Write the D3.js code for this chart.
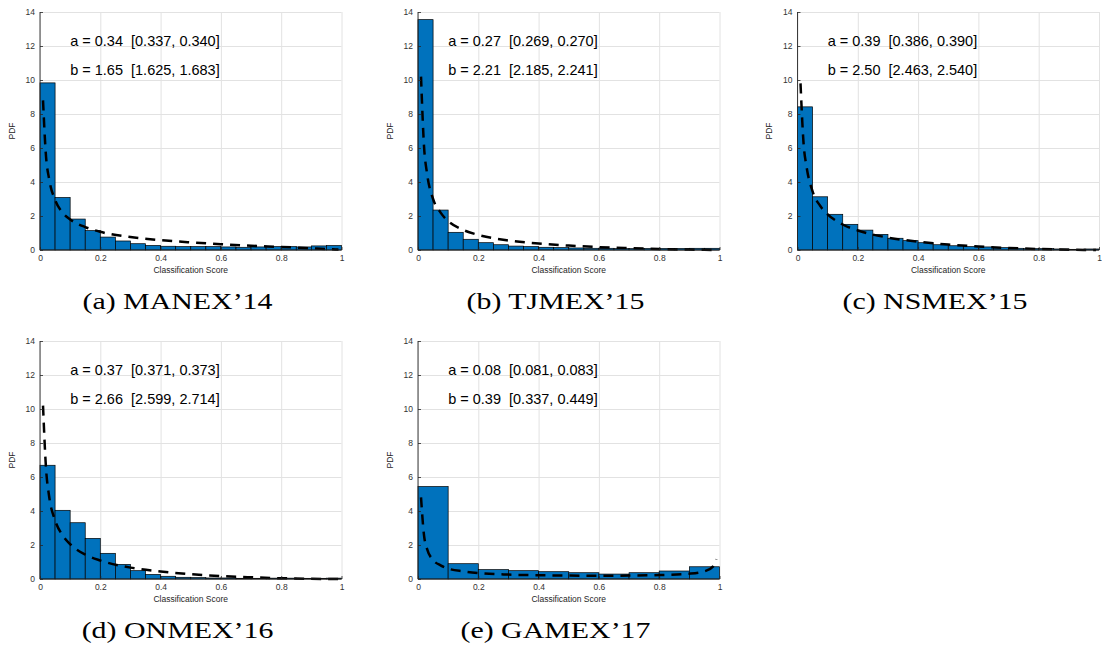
<!DOCTYPE html>
<html>
<head>
<meta charset="utf-8">
<script src="https://cdn.jsdelivr.net/npm/d3@7"></script>
<style>
  html, body { margin: 0; padding: 0; background: #fff; }
  svg { display: block; }
  .tick text { font-family: "Liberation Sans", Arial, sans-serif; font-size: 8.5px; fill: #333; }
  .grid line { stroke: #e2e2e2; stroke-width: 1; }
  .grid path { display: none; }
  .axis path { display: none; }
  .axis line { stroke: #262626; stroke-width: 0.8; }
</style>
</head>
<body>
<script>
// panel captions
var captions = ["(a) MANEX\u201914", "(b) TJMEX\u201915", "(c) NSMEX\u201915", "(d) ONMEX\u201916", "(e) GAMEX\u201917"];

// fitted parameter texts
var paramA = ["a = 0.34  [0.337, 0.340]", "a = 0.27  [0.269, 0.270]", "a = 0.39  [0.386, 0.390]", "a = 0.37  [0.371, 0.373]", "a = 0.08  [0.081, 0.083]"];
var paramB = ["b = 1.65  [1.625, 1.683]", "b = 2.21  [2.185, 2.241]", "b = 2.50  [2.463, 2.540]", "b = 2.66  [2.599, 2.714]", "b = 0.39  [0.337, 0.449]"];

// histogram bar heights (pdf), bins evenly spread over [0,1]
var histA = [9.83, 3.09, 1.82, 1.14, 0.76, 0.53, 0.37, 0.27, 0.22, 0.2, 0.2, 0.2, 0.18, 0.16, 0.18, 0.2, 0.2, 0.18, 0.24, 0.26];
var histB = [13.55, 2.35, 1.04, 0.63, 0.43, 0.31, 0.23, 0.2, 0.16, 0.14, 0.12, 0.1, 0.1, 0.08, 0.08, 0.09, 0.09, 0.09, 0.1, 0.1];
var histC = [8.42, 3.13, 2.1, 1.51, 1.17, 0.92, 0.69, 0.55, 0.43, 0.31, 0.25, 0.2, 0.18, 0.14, 0.1, 0.08, 0.08, 0.06, 0.04, 0.06];
var histD = [6.69, 4.04, 3.31, 2.39, 1.51, 0.86, 0.49, 0.27, 0.16, 0.1, 0.08, 0.06, 0.06, 0.04, 0.04, 0.05, 0.05, 0.04, 0.04, 0.05];
var histE = [5.44, 0.9, 0.55, 0.49, 0.43, 0.37, 0.29, 0.37, 0.47, 0.72];

// dashed fit curve
var fitX  = [0.01, 0.02, 0.03, 0.05, 0.075, 0.1, 0.15, 0.2, 0.3, 0.4, 0.5, 0.6, 0.7, 0.8, 0.9, 0.95, 0.98, 0.99];
var fitA  = [8.8, 5.5, 4.2, 2.95, 2.2, 1.8, 1.35, 1.07, 0.76, 0.58, 0.45, 0.34, 0.25, 0.18, 0.1, 0.06, 0.03, 0.02];
var fitB  = [10.2, 6.1, 4.5, 3.0, 2.2, 1.7, 1.18, 0.89, 0.56, 0.38, 0.26, 0.17, 0.11, 0.06, 0.024, 0.01, 0.003, 0.001];
var fitC  = [9.8, 6.3, 4.9, 3.45, 2.6, 2.1, 1.5, 1.15, 0.73, 0.49, 0.32, 0.21, 0.12, 0.06, 0.02, 0.007, 0.002, 0.001];
var fitD  = [10.2, 6.5, 4.9, 3.45, 2.57, 2.05, 1.44, 1.09, 0.67, 0.44, 0.28, 0.17, 0.1, 0.045, 0.013, 0.004, 0.001, 0.0003];
var fitE  = [4.8, 2.56, 1.77, 1.12, 0.8, 0.61, 0.45, 0.35, 0.26, 0.22, 0.2, 0.19, 0.2, 0.23, 0.31, 0.45, 0.76, 1.16];

// axis ticks
var xTicks = [0, 0.2, 0.4, 0.6, 0.8, 1];
var xTickLabels = ["0", "0.2", "0.4", "0.6", "0.8", "1"];
var yTicks = [0, 2, 4, 6, 8, 10, 12, 14];

var hists = [histA, histB, histC, histD, histE];
var fits = [fitA, fitB, fitC, fitD, fitE];

var W = 1102, H = 658;
var colLeft = [40, 418, 797.5];
var rowTop = [12, 341];
var pw = 301.5, ph = 238;

var svg = d3.select('body').append('svg')
  .attr('width', W).attr('height', H);

hists.forEach(function(hist, i) {
  var left = colLeft[i % 3], top = rowTop[Math.floor(i / 3)];
  var g = svg.append('g').attr('transform', 'translate(' + left + ',' + top + ')');

  var x = d3.scaleLinear().domain([0, 1]).range([0, pw]);
  var y = d3.scaleLinear().domain([0, 14]).range([ph, 0]);

  // grid
  g.append('g').attr('class', 'grid')
    .call(d3.axisTop(x).tickValues(xTicks).tickSize(-ph).tickFormat(''));
  g.append('g').attr('class', 'grid')
    .call(d3.axisRight(y).tickValues(yTicks).tickSize(pw).tickFormat(''));

  // bars
  var bw = 1 / hist.length;
  g.selectAll('rect.bar').data(hist).enter().append('rect')
    .attr('class', 'bar')
    .attr('x', function(d, k) { return x(k * bw); })
    .attr('width', function(d, k) { return x((k + 1) * bw) - x(k * bw); })
    .attr('y', function(d) { return y(d); })
    .attr('height', function(d) { return y(0) - y(d); })
    .attr('fill', '#0072BD')
    .attr('stroke', '#000')
    .attr('stroke-width', 0.7);

  // fitted curve
  var line = d3.line()
    .x(function(d, k) { return x(fitX[k]); })
    .y(function(d) { return y(d); })
    .curve(d3.curveMonotoneX);
  g.append('path').datum(fits[i])
    .attr('d', line)
    .attr('fill', 'none')
    .attr('stroke', '#000')
    .attr('stroke-width', 2.5)
    .attr('stroke-dasharray', '10,7');

  // axes
  g.append('g').attr('class', 'axis')
    .call(d3.axisLeft(y).tickValues(yTicks).tickSizeInner(-3).tickSizeOuter(0).tickPadding(5));
  g.append('g').attr('class', 'axis')
    .attr('transform', 'translate(0,' + ph + ')')
    .call(d3.axisBottom(x).tickValues(xTicks).tickSizeInner(-3).tickSizeOuter(0).tickPadding(5)
      .tickFormat(function(d, k) { return xTickLabels[k]; }));
  g.append('line').attr('x1', 0).attr('x2', 0).attr('y1', 0).attr('y2', ph)
    .attr('stroke', '#262626').attr('stroke-width', 0.9);
  g.append('line').attr('x1', 0).attr('x2', pw).attr('y1', ph).attr('y2', ph)
    .attr('stroke', '#262626').attr('stroke-width', 0.9);

  // labels
  g.append('text')
    .attr('transform', 'translate(-25.5,' + (ph / 2) + ') rotate(-90)')
    .attr('text-anchor', 'middle')
    .style('font-family', '"Liberation Sans", Arial, sans-serif')
    .style('font-size', '8.5px').style('fill', '#262626')
    .text('PDF');
  g.append('text')
    .attr('x', pw / 2).attr('y', ph + 22.5)
    .attr('text-anchor', 'middle')
    .style('font-family', '"Liberation Sans", Arial, sans-serif')
    .style('font-size', '8.5px').style('fill', '#262626')
    .text('Classification Score');

  // parameter annotations
  [paramA[i], paramB[i]].forEach(function(t, k) {
    g.append('text')
      .attr('x', x(0.1)).attr('y', y(k === 0 ? 12.3 : 10.6))
      .attr('dy', '0.35em')
      .style('white-space', 'pre')
      .style('font-family', '"Liberation Sans", Arial, sans-serif')
      .style('font-size', '14.5px').style('fill', '#000')
      .text(t);
  });

  // caption
  g.append('text')
    .attr('transform', 'translate(137.5,' + 297 + ') scale(1.3,1)')
    .attr('text-anchor', 'middle')
    .style('font-family', '"Liberation Serif", "Times New Roman", serif')
    .style('font-size', '23px').style('fill', '#000')
    .text(captions[i]);
});
</script>
</body>
</html>
